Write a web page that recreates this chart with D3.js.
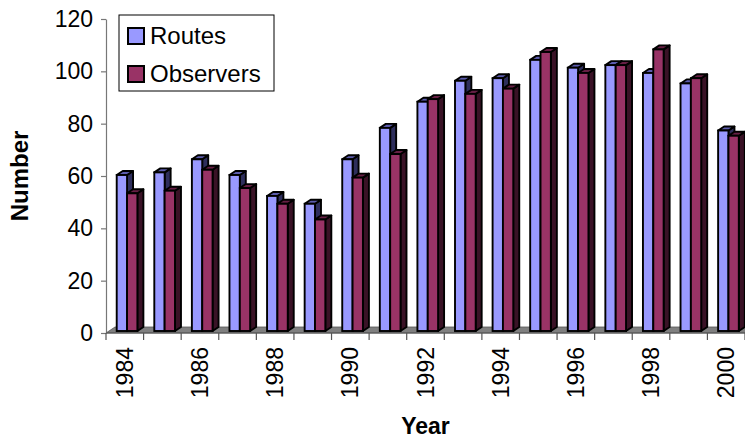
<!DOCTYPE html>
<html>
<head>
<meta charset="utf-8">
<script src="https://cdn.jsdelivr.net/npm/d3@7/dist/d3.min.js"></script>
<style>
  html, body { margin: 0; padding: 0; background: #fff; }
  svg { display: block; font-family: "Liberation Sans", Arial, sans-serif; }
</style>
</head>
<body>
<svg id="chart" width="745" height="440"></svg>
<script>
const years = ["1984","1985","1986","1987","1988","1989","1990","1991","1992","1993","1994","1995","1996","1997","1998","1999","2000"];
const routes    = [60, 61, 66, 60, 52, 49, 66, 78, 88, 96, 97, 104, 101, 102, 99, 95, 77];
const observers = [53, 54, 62, 55, 49, 43, 59, 68, 89, 91, 93, 107, 99, 102, 108, 97, 75];
const yTicks = [0, 20, 40, 60, 80, 100, 120];
const xLabels = ["1984","1986","1988","1990","1992","1994","1996","1998","2000"];
const seriesNames = ["Routes", "Observers"];

const colors = {
  Routes:    { front: "#9999FF", top: "#5c5cad", side: "#2e2e5c" },
  Observers: { front: "#993366", top: "#661f44", side: "#3a1226" }
};

const svg = d3.select("#chart");
const pLeft = 106, pRight = 745, pTop = 19, pBottom = 333;

const x = d3.scaleBand().domain(years).range([pLeft, pRight]).paddingInner(0).paddingOuter(0);
const y = d3.scaleLinear().domain([0, 120]).range([pBottom, pTop]);

// Floor
const fdx = 9, fdy = 6;
svg.append("polygon")
  .attr("points", [[pLeft, pBottom], [pRight + 20, pBottom], [pRight + 20 + fdx, pBottom - fdy], [pLeft + fdx, pBottom - fdy]].map(p => p.join(",")).join(" "))
  .attr("fill", "#808080")
  .attr("stroke", "#555")
  .attr("stroke-width", 0.8);

// Bars (3D-like)
const bw = x.bandwidth();
const barW = bw * 0.275;
const dx = 6, dy = 4;
const base = y(0) - 2;
const sw = 1.9;

function drawBar(g, x0, v, c) {
  const yt = y(v) - 1;
  g.append("polygon")
    .attr("points", [[x0 + barW, base], [x0 + barW, yt], [x0 + barW + dx, yt - dy], [x0 + barW + dx, base - dy]].map(p => p.join(",")).join(" "))
    .attr("fill", c.side).attr("stroke", "#000").attr("stroke-width", sw).attr("stroke-linejoin", "round");
  g.append("polygon")
    .attr("points", [[x0, yt], [x0 + barW, yt], [x0 + barW + dx, yt - dy], [x0 + dx, yt - dy]].map(p => p.join(",")).join(" "))
    .attr("fill", c.top).attr("stroke", "#000").attr("stroke-width", sw).attr("stroke-linejoin", "round");
  g.append("rect")
    .attr("x", x0).attr("y", yt).attr("width", barW).attr("height", base - yt)
    .attr("fill", c.front).attr("stroke", "#000").attr("stroke-width", sw);
}

const barsG = svg.append("g");
years.forEach((yr, i) => {
  const bx = x(yr) + bw * 0.285;
  drawBar(barsG, bx, routes[i], colors.Routes);
  drawBar(barsG, bx + barW, observers[i], colors.Observers);
});

// Y axis
const yAxis = d3.axisLeft(y).tickValues(yTicks).tickSize(5).tickPadding(8).tickSizeOuter(0);
const yg = svg.append("g").attr("transform", `translate(${pLeft},0)`).call(yAxis);
yg.select(".domain").attr("stroke", "#777").attr("stroke-width", 1.2);
yg.selectAll(".tick line").attr("stroke", "#777").attr("stroke-width", 1.2);
yg.selectAll(".tick text").attr("font-size", 23).attr("fill", "#000")
  .attr("font-family", "'Liberation Sans', Arial, sans-serif");

// X axis
const xg = svg.append("g").attr("transform", `translate(0,${pBottom})`);
xg.append("line").attr("x1", pLeft).attr("x2", pRight).attr("y1", 0).attr("y2", 0)
  .attr("stroke", "#555").attr("stroke-width", 1.2);
const boundaries = years.map(yr => x(yr)).concat([pRight]);
xg.selectAll("line.tk").data(boundaries).enter().append("line")
  .attr("class", "tk")
  .attr("x1", d => d).attr("x2", d => d).attr("y1", 0).attr("y2", 7)
  .attr("stroke", "#555").attr("stroke-width", 1.2);
xg.selectAll("text.xl").data(xLabels).enter().append("text")
  .attr("class", "xl")
  .attr("transform", d => `translate(${x(d) + bw / 2 + 8},${14}) rotate(-90)`)
  .attr("text-anchor", "end")
  .attr("font-size", 23)
  .attr("fill", "#000")
  .text(d => d);

// Axis titles
svg.append("text")
  .attr("x", (pLeft + pRight) / 2).attr("y", 434)
  .attr("text-anchor", "middle")
  .attr("font-size", 23).attr("font-weight", "bold")
  .text("Year");
svg.append("text")
  .attr("transform", `translate(28,${(pTop + pBottom) / 2}) rotate(-90)`)
  .attr("text-anchor", "middle")
  .attr("font-size", 24).attr("font-weight", "bold")
  .text("Number");

// Legend
const lg = svg.append("g");
lg.append("rect").attr("x", 119).attr("y", 15).attr("width", 155).attr("height", 76)
  .attr("fill", "#fff").attr("stroke", "#000").attr("stroke-width", 1);
seriesNames.forEach((name, i) => {
  const ly = 28 + i * 38;
  lg.append("rect").attr("x", 128).attr("y", ly).attr("width", 16).attr("height", 16)
    .attr("fill", colors[name].front).attr("stroke", "#000").attr("stroke-width", 2);
  lg.append("text").attr("x", 150).attr("y", ly + 16)
    .attr("font-size", 24).attr("fill", "#000").text(name);
});
</script>
</body>
</html>
